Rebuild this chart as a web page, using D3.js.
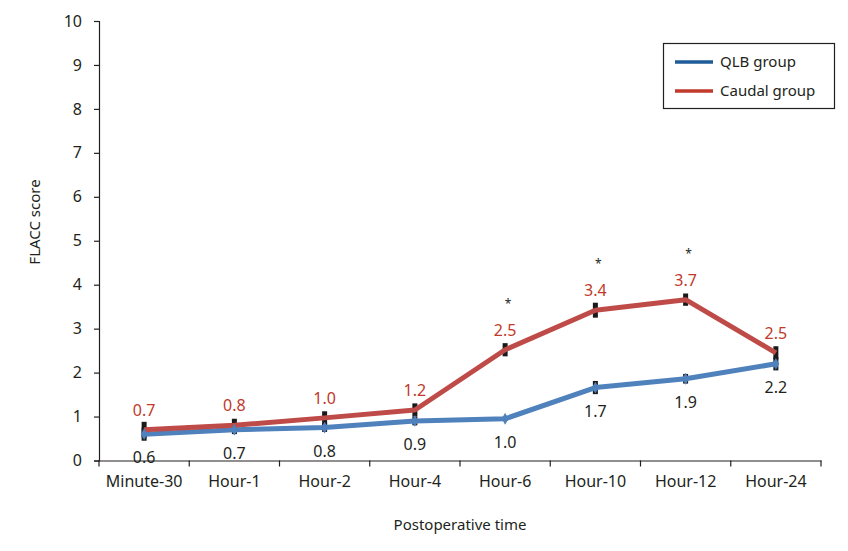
<!DOCTYPE html>
<html>
<head>
<meta charset="utf-8">
<script src="https://cdn.jsdelivr.net/npm/d3@7"></script>
<style>
  html, body { margin: 0; padding: 0; background: #fff; }
  svg { display: block; font-family: "Noto Sans", "Open Sans", sans-serif; }
</style>
</head>
<body>
<svg id="chart" width="848" height="551"></svg>
<script>
// ---- data ----
const categories = ["Minute-30", "Hour-1", "Hour-2", "Hour-4", "Hour-6", "Hour-10", "Hour-12", "Hour-24"];
const qlbValues = [0.6, 0.7, 0.75, 0.9, 0.95, 1.66, 1.86, 2.2];
const qlbLabels = ["0.6", "0.7", "0.8", "0.9", "1.0", "1.7", "1.9", "2.2"];
const qlbErr = [0.15, 0.1, 0.1, 0.1, 0.05, 0.15, 0.11, 0.15];
const caudalValues = [0.7, 0.8, 0.97, 1.15, 2.52, 3.42, 3.66, 2.45];
const caudalLabels = ["0.7", "0.8", "1.0", "1.2", "2.5", "3.4", "3.7", "2.5"];
const caudalErr = [0.18, 0.15, 0.15, 0.15, 0.15, 0.17, 0.14, 0.15];
const significant = [false, false, false, false, true, true, true, false];
const yTicks = [0, 1, 2, 3, 4, 5, 6, 7, 8, 9, 10];
const legendNames = ["QLB group", "Caudal group"];

// ---- layout ----
const svg = d3.select("#chart");
const mLeft = 99, mRight = 821, mTop = 21, mBottom = 460.5;
const x = d3.scaleBand().domain(categories).range([mLeft, mRight]).padding(0);
const y = d3.scaleLinear().domain([0, 10]).range([mBottom, mTop]);
const cx = d => x(d) + x.bandwidth() / 2;
const textColor = "#231f20";
const red = "#be4b48", blue = "#4f81bd";
const fs = "16px";

// y axis
const yAxis = svg.append("g").attr("transform", `translate(${mLeft},0)`)
  .call(d3.axisLeft(y).tickValues(yTicks).tickSize(5).tickPadding(12).tickFormat(d3.format("d")));
yAxis.select(".domain").attr("stroke", textColor).attr("stroke-width", 1.2);
yAxis.selectAll(".tick line").attr("stroke", textColor).attr("stroke-width", 1.2);
yAxis.selectAll(".tick text").attr("fill", textColor).style("font-size", fs)
  .style("font-family", "'Noto Sans', sans-serif");

// x axis
const xAxis = svg.append("g").attr("transform", `translate(0,${mBottom})`)
  .call(d3.axisBottom(x).tickSize(0).tickPadding(15));
xAxis.select(".domain").attr("stroke", textColor).attr("stroke-width", 1.2);
xAxis.selectAll(".tick text").attr("fill", textColor).style("font-size", fs)
  .style("font-family", "'Noto Sans', sans-serif");
const boundaries = categories.map(c => x(c)).concat([x(categories[categories.length - 1]) + x.bandwidth()]);
svg.append("g").selectAll("line").data(boundaries).join("line")
  .attr("x1", d => d).attr("x2", d => d)
  .attr("y1", mBottom).attr("y2", mBottom + 6)
  .attr("stroke", textColor).attr("stroke-width", 1.2);

// axis titles
svg.append("text").attr("transform", `translate(40,222) rotate(-90)`)
  .attr("text-anchor", "middle").attr("fill", textColor)
  .style("font-size", "15px").text("FLACC score");
svg.append("text").attr("x", 460).attr("y", 530)
  .attr("text-anchor", "middle").attr("fill", textColor)
  .style("font-size", "15px").text("Postoperative time");

// error bars (drawn beneath lines)
function errBars(vals, errs) {
  svg.append("g").selectAll("rect").data(categories).join("rect")
    .attr("x", d => cx(d) - 2.5)
    .attr("width", 5)
    .attr("y", (d, i) => y(vals[i] + errs[i]))
    .attr("height", (d, i) => y(vals[i] - errs[i]) - y(vals[i] + errs[i]))
    .attr("fill", "#1a1a1a");
}
errBars(caudalValues, caudalErr);
errBars(qlbValues, qlbErr);

// lines
const line = vals => d3.line().x((d, i) => cx(categories[i])).y(d => y(d))(vals);
svg.append("path").attr("d", line(qlbValues)).attr("fill", "none")
  .attr("stroke", blue).attr("stroke-width", 5).attr("stroke-linejoin", "round");
svg.append("path").attr("d", line(caudalValues)).attr("fill", "none")
  .attr("stroke", red).attr("stroke-width", 5).attr("stroke-linejoin", "round");

// blue diamond markers
svg.append("g").selectAll("path").data(categories).join("path")
  .attr("d", d3.symbol().type(d3.symbolDiamond).size(40))
  .attr("transform", (d, i) => `translate(${cx(d)},${y(qlbValues[i])})`)
  .attr("fill", blue);

// data labels
svg.append("g").selectAll("text").data(categories).join("text")
  .attr("x", d => cx(d)).attr("y", (d, i) => y(caudalValues[i]) - 14)
  .attr("text-anchor", "middle").attr("fill", "#c0392b")
  .style("font-size", fs).text((d, i) => caudalLabels[i]);
svg.append("g").selectAll("text").data(categories).join("text")
  .attr("x", d => cx(d)).attr("y", (d, i) => y(qlbValues[i]) + 29)
  .attr("text-anchor", "middle").attr("fill", textColor)
  .style("font-size", fs).text((d, i) => qlbLabels[i]);

// significance asterisks
svg.append("g").selectAll("text").data(categories.filter((c, i) => significant[i])).join("text")
  .attr("x", d => cx(d) + 3)
  .attr("y", d => y(caudalValues[categories.indexOf(d)]) - 42)
  .attr("text-anchor", "middle").attr("fill", textColor)
  .style("font-size", "12px").text("*");

// legend
const lg = svg.append("g");
lg.append("rect").attr("x", 663.5).attr("y", 43.5).attr("width", 171).attr("height", 65)
  .attr("fill", "#fff").attr("stroke", textColor).attr("stroke-width", 1.2);
const legendColors = ["#1f5c99", "#c0392b"];
legendNames.forEach((n, i) => {
  const ly = 62 + i * 29;
  lg.append("line").attr("x1", 675).attr("x2", 713).attr("y1", ly).attr("y2", ly)
    .attr("stroke", legendColors[i]).attr("stroke-width", 3.5);
  lg.append("text").attr("x", 720).attr("y", ly + 5).attr("fill", textColor)
    .style("font-size", "15px").text(n);
});
</script>
</body>
</html>
